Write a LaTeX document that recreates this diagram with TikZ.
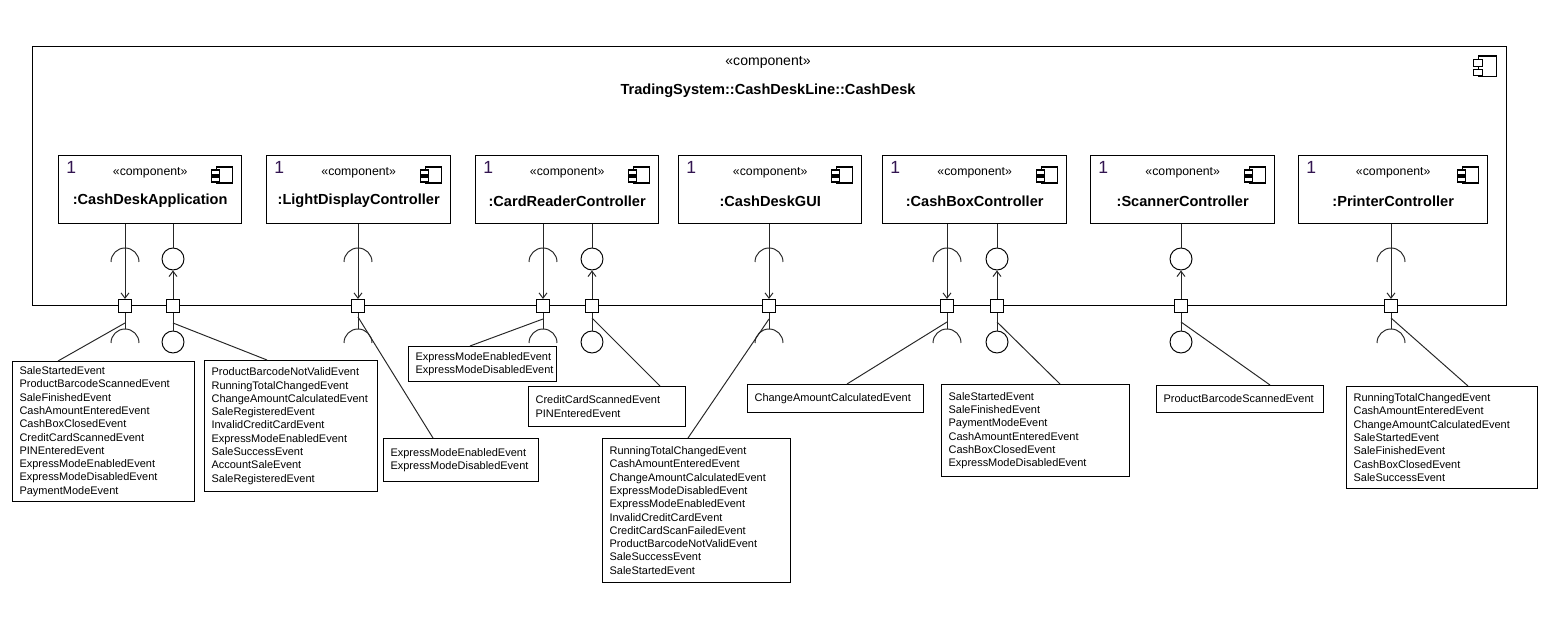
\documentclass[tikz,border=0pt]{standalone}
\usepackage{fontspec}
\setmainfont{Liberation Sans}
\usetikzlibrary{arrows.meta,calc}
\definecolor{onecol}{RGB}{50,20,80}
\newcommand\notefont{\fontsize{6.25}{7.56}\selectfont}
\newcommand\cnamefont{\fontsize{8.3}{10}\selectfont\bfseries}
\newcommand\stereofont{\fontsize{7}{8}\selectfont}
\tikzset{
  x=0.02cm, y=-0.02cm,
  outerbox/.style={draw, line width=0.6pt, anchor=north west, inner sep=0pt, minimum width=29.48cm, minimum height=5.18cm},
  comp/.style={draw, line width=0.8pt, anchor=north west, inner sep=0pt, minimum width=3.68cm, minimum height=1.36cm},
  onelbl/.style={font=\fontsize{10}{12}\selectfont, text=onecol, inner sep=0pt, anchor=base west},
  stereo/.style={font=\stereofont, inner sep=0pt},
  cname/.style={font=\cnamefont, inner sep=0pt},
  port/.style={draw, fill=white, line width=0.6pt, minimum size=0.26cm, inner sep=0pt},
  lolli/.style={draw, circle, line width=0.55pt, minimum size=0.44cm, inner sep=0pt},
  conn/.style={line width=0.55pt, draw=black!85},
  arrowed/.style={-{Straight Barb[length=3pt,width=4.5pt]}},
  note/.style={draw, line width=0.65pt, anchor=north west, inner xsep=0.14cm, inner ysep=0pt, align=left, font=\notefont},
  cicon/.pic={
    \draw[line width=0.6pt] (0,0) rectangle (16,16);
    \draw[line width=0.6pt, fill=white] (-5,3) rectangle (3,8);
    \draw[line width=0.6pt, fill=white] (-5,10) rectangle (3,15);
  }
}
\newcommand\mycomp[4]{% name, left, label, width
  \node[comp, minimum width=#4] (#1) at (#2,155) {};
  \node[onelbl] (#1one) at ($(#1.north west)+(8,19)$) {1};
  \node[stereo] (#1st) at ($(#1.north)+(0,18)$) {«component»};
  \node[cname] (#1nm) at ($(#1.north)+(0,46)$) {#3};
  \pic at ($(#1.north east)+(-26,12)$) {cicon};
}
\newcommand\reqport[4]{% port, x, component, stub y
  \node[port] (#1) at (#2,306) {};
  \draw[conn, arrowed] (#3.south -| #1) -- (#1.north);
  \coordinate (#1si) at (#2,262);
  \draw[conn] ($(#1si)+(14,0)$) arc[start angle=0, end angle=180, radius=0.28cm];
  \coordinate (#1so) at (#2,343);
  \draw[conn] (#1.south) -- ($(#1so)+(0,-14)$);
  \draw[conn] ($(#1so)+(14,0)$) arc[start angle=0, end angle=180, radius=0.28cm];
  \coordinate (#1a) at (#2,#4);
}
\newcommand\provport[4]{% port, x, component, stub y
  \node[port] (#1) at (#2,306) {};
  \node[lolli] (#1ci) at (#2,259) {};
  \draw[conn] (#3.south -| #1) -- (#1ci.north);
  \draw[conn, arrowed] (#1.north) -- (#1ci.south);
  \node[lolli] (#1co) at (#2,342) {};
  \draw[conn] (#1.south) -- (#1co.north);
  \coordinate (#1a) at (#2,#4);
}
\begin{document}
\begin{tikzpicture}
\useasboundingbox (0,0) rectangle (1558,644);
\fill[white] (0,0) rectangle (1558,644);
% outer component
\node[outerbox] (cashdesk) at (32,46) {};
\node[stereo, font=\fontsize{8}{9}\selectfont] (topst) at (768,62) {«component»};
\node[cname] (toptitle) at (768,91) {TradingSystem::CashDeskLine::CashDesk};
\pic[xscale=1.125, yscale=1.31] at ($(cashdesk.north east)+(-28,10)$) {cicon};
% parts
\mycomp{cda}{58}{:CashDeskApplication}{3.66cm}
\mycomp{ldc}{266}{:LightDisplayController}{3.68cm}
\mycomp{crc}{475}{:CardReaderController}{3.66cm}
\mycomp{gui}{678}{:CashDeskGUI}{3.66cm}
\mycomp{cbc}{882}{:CashBoxController}{3.68cm}
\mycomp{sc}{1090}{:ScannerController}{3.68cm}
\mycomp{pc}{1298}{:PrinterController}{3.78cm}
% ports
\reqport{p1}{125}{cda}{323}
\provport{p2}{173}{cda}{323}
\reqport{p3}{358}{ldc}{317}
\reqport{p4}{543}{crc}{319}
\provport{p5}{592}{crc}{318}
\reqport{p6}{769}{gui}{319}
\reqport{p7}{947}{cbc}{322}
\provport{p8}{997}{cbc}{322}
\provport{p9}{1181}{sc}{322}
\reqport{p10}{1391}{pc}{318}
% notes
\node[note, text width=3.36cm, minimum height=2.80cm] (n1) at (12,361) {SaleStartedEvent\\ProductBarcodeScannedEvent\\SaleFinishedEvent\\CashAmountEnteredEvent\\CashBoxClosedEvent\\CreditCardScannedEvent\\PINEnteredEvent\\ExpressModeEnabledEvent\\ExpressModeDisabledEvent\\PaymentModeEvent};
\node[note, text width=3.18cm, minimum height=2.62cm] (n2) at (204,360) {ProductBarcodeNotValidEvent\\RunningTotalChangedEvent\\ChangeAmountCalculatedEvent\\SaleRegisteredEvent\\InvalidCreditCardEvent\\ExpressModeEnabledEvent\\SaleSuccessEvent\\AccountSaleEvent\\SaleRegisteredEvent};
\node[note, text width=2.82cm, minimum height=0.86cm] (n3) at (383,438) {ExpressModeEnabledEvent\\ExpressModeDisabledEvent};
\node[note, text width=2.68cm, minimum height=0.70cm] (n4) at (408,346) {ExpressModeEnabledEvent\\ExpressModeDisabledEvent};
\node[note, text width=2.86cm, minimum height=0.80cm] (n5) at (528,386) {CreditCardScannedEvent\\PINEnteredEvent};
\node[note, text width=3.48cm, minimum height=2.88cm] (n6) at (602,438) {RunningTotalChangedEvent\\CashAmountEnteredEvent\\ChangeAmountCalculatedEvent\\ExpressModeDisabledEvent\\ExpressModeEnabledEvent\\InvalidCreditCardEvent\\CreditCardScanFailedEvent\\ProductBarcodeNotValidEvent\\SaleSuccessEvent\\SaleStartedEvent};
\node[note, text width=3.24cm, minimum height=0.56cm] (n7) at (747,384) {ChangeAmountCalculatedEvent};
\node[note, text width=3.48cm, minimum height=1.84cm] (n8) at (941,384) {SaleStartedEvent\\SaleFinishedEvent\\PaymentModeEvent\\CashAmountEnteredEvent\\CashBoxClosedEvent\\ExpressModeDisabledEvent};
\node[note, text width=3.06cm, minimum height=0.54cm] (n9) at (1156,385) {ProductBarcodeScannedEvent};
\node[note, text width=3.54cm, minimum height=2.04cm] (n10) at (1346,386) {RunningTotalChangedEvent\\CashAmountEnteredEvent\\ChangeAmountCalculatedEvent\\SaleStartedEvent\\SaleFinishedEvent\\CashBoxClosedEvent\\SaleSuccessEvent};
% note links
\draw[conn] (p1a) -- ($(n1.north west)+(46,0)$);
\draw[conn] (p2a) -- ($(n2.north west)+(63,0)$);
\draw[conn] (p3a) -- ($(n3.north west)+(50,0)$);
\draw[conn] (p4a) -- ($(n4.north west)+(62,0)$);
\draw[conn] (p5a) -- ($(n5.north west)+(132,0)$);
\draw[conn] (p6a) -- ($(n6.north west)+(86,0)$);
\draw[conn] (p7a) -- ($(n7.north west)+(100,0)$);
\draw[conn] (p8a) -- ($(n8.north west)+(119,0)$);
\draw[conn] (p9a) -- ($(n9.north west)+(114,0)$);
\draw[conn] (p10a) -- ($(n10.north west)+(122,0)$);
\end{tikzpicture}
\end{document}
